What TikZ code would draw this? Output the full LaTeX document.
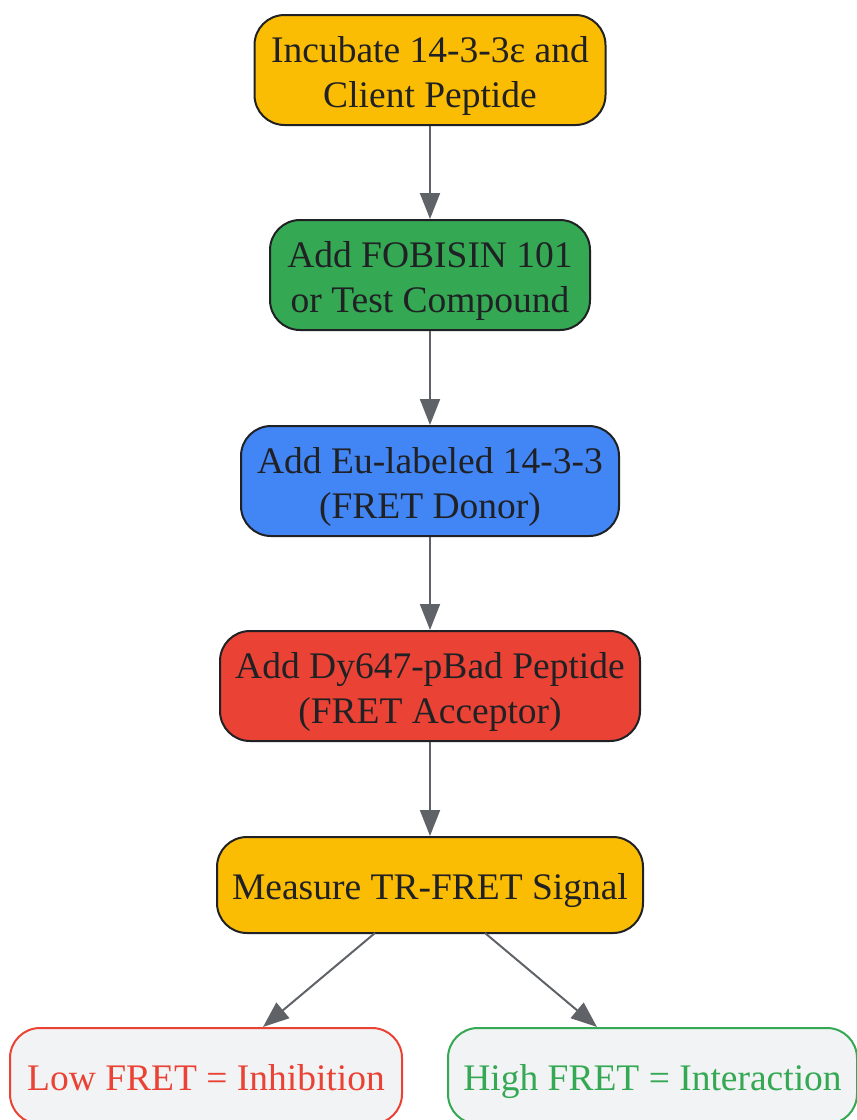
\documentclass[tikz,border=0pt]{standalone}
\usepackage{fontspec}
\setmainfont{Liberation Serif}
\usetikzlibrary{arrows.meta}
\definecolor{cyellow}{HTML}{FBBC04}
\definecolor{cgreen}{HTML}{34A853}
\definecolor{cblue}{HTML}{4285F4}
\definecolor{cred}{HTML}{EA4335}
\definecolor{cgray}{HTML}{F1F3F4}
\definecolor{ctext}{HTML}{202124}
\definecolor{carrow}{HTML}{5F6368}
\tikzset{
  stepbox/.style={draw=ctext, line width=2pt, rounded corners=30pt, inner sep=0pt},
  lab/.style={align=center, text=ctext, inner sep=0pt, yshift=-6pt,
    font=\fontsize{37.5}{45}\selectfont},
  endbox/.style={line width=2pt, fill=cgray, rounded corners=30pt,
    inner sep=0pt, minimum height=96pt},
  conn/.style={draw=carrow, line width=2pt, -{Triangle[length=26pt,width=20pt]}}
}
\begin{document}
\begin{tikzpicture}[x=1pt,y=-1pt]
\useasboundingbox (0,0) rectangle (857,1120);
\clip (0,0) rectangle (857,1120);
\node[stepbox, fill=cyellow, minimum width=351pt, minimum height=110pt,
  label={[lab]center:{Incubate 14-3-3ε and\\Client Peptide}}] (n1) at (430,70) {};
\node[stepbox, fill=cgreen, minimum width=320pt, minimum height=110pt,
  label={[lab]center:{Add FOBISIN 101\\or Test Compound}}] (n2) at (430,275) {};
\node[stepbox, fill=cblue, minimum width=378pt, minimum height=110pt,
  label={[lab]center:{Add Eu-labeled 14-3-3\\(FRET Donor)}}] (n3) at (430,481) {};
\node[stepbox, fill=cred, minimum width=420pt, minimum height=110pt,
  label={[lab]center:{Add Dy647-pBad Peptide\\(FRET Acceptor)}}] (n4) at (430,686) {};
\node[stepbox, fill=cyellow, minimum width=426pt, minimum height=96pt,
  label={[lab, text height=26pt, text depth=9pt]center:{Measure TR-FRET Signal}}] (n5) at (430,885) {};
\node[endbox, draw=cred, minimum width=392pt,
  label={[lab, text=cred, text height=26pt, text depth=9pt]center:{Low FRET = Inhibition}}] (n6) at (206,1076) {};
\node[endbox, draw=cgreen, minimum width=409pt,
  label={[lab, text=cgreen, text height=26pt, text depth=9pt]center:{High FRET = Interaction}}] (n7) at (652.5,1076) {};
\draw[conn] (n1) -- (n2);
\draw[conn] (n2) -- (n3);
\draw[conn] (n3) -- (n4);
\draw[conn] (n4) -- (n5);
\coordinate (a1) at (375,933);
\coordinate (a2) at (485,933);
\draw[conn] (a1) -- (n6.north -| 263,0);
\draw[conn] (a2) -- (n7.north -| 597,0);
\end{tikzpicture}
\end{document}
